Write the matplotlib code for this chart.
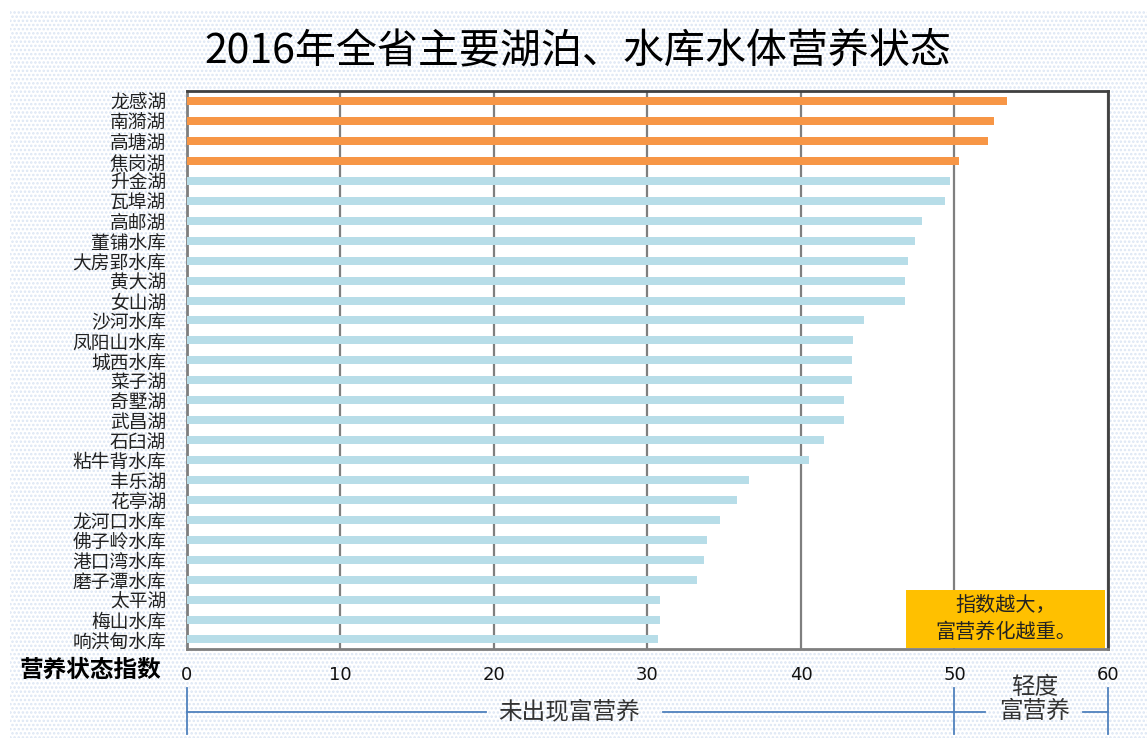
import matplotlib
matplotlib.use("Agg")
import matplotlib.pyplot as plt
from matplotlib.patches import Rectangle
from matplotlib.transforms import blended_transform_factory

plt.rcParams['font.family'] = ['Noto Sans CJK SC', 'DejaVu Sans']
plt.rcParams['hatch.linewidth'] = 1.2

# 数据
lakes = ['龙感湖', '南漪湖', '高塘湖', '焦岗湖', '升金湖', '瓦埠湖', '高邮湖',
         '董铺水库', '大房郢水库', '黄大湖', '女山湖', '沙河水库', '凤阳山水库',
         '城西水库', '菜子湖', '奇墅湖', '武昌湖', '石臼湖', '粘牛背水库',
         '丰乐湖', '花亭湖', '龙河口水库', '佛子岭水库', '港口湾水库',
         '磨子潭水库', '太平湖', '梅山水库', '响洪甸水库']
index_values = [53.4, 52.6, 52.2, 50.3, 49.7, 49.4, 47.9, 47.4, 47.0, 46.8,
                46.8, 44.1, 43.4, 43.3, 43.3, 42.8, 42.8, 41.5, 40.5, 36.6,
                35.8, 34.7, 33.9, 33.7, 33.2, 30.8, 30.8, 30.7]
x_ticks = [0, 10, 20, 30, 40, 50, 60]
level_edges = [0, 50, 60]          # 未出现富营养 / 轻度富营养 分界
level_names = ['未出现富营养', '轻度\n富营养']

orange = '#F79646'
light_blue = '#B7DDE8'
colors = [orange if v >= 50 else light_blue for v in index_values]

fig = plt.figure(figsize=(11.47, 7.38), dpi=100)
# 点状背景
bg = Rectangle((0.009, 0), 0.991, 0.986, transform=fig.transFigure, facecolor='white',
               edgecolor='#dce6f4', hatch='....', lw=0, zorder=-10)
fig.patches.append(bg)

ax = fig.add_axes([0.163, 0.120, 0.803, 0.757])
ax.set_facecolor('white')
ypos = list(range(len(lakes)))
ax.barh(ypos, index_values, height=0.4, color=colors, zorder=3)
ax.set_xlim(0, 60)
ax.set_ylim(len(lakes) - 0.5, -0.52)
ax.set_yticks(ypos)
ax.set_yticklabels(lakes, fontsize=13.5, color='#222222')
ax.set_xticks(x_ticks)
ax.set_xticklabels([str(t) for t in x_ticks], fontsize=13, family='DejaVu Sans', color='#111111')
ax.tick_params(axis='both', length=0)
ax.tick_params(axis='y', pad=15)
ax.tick_params(axis='x', pad=12)
ax.grid(axis='x', color='#7f7f7f', lw=1.6, zorder=1)
for side in ['left', 'bottom']:
    ax.spines[side].set_color('#7f7f7f')
    ax.spines[side].set_linewidth(2)
for side in ['top', 'right']:
    ax.spines[side].set_color('#404040')
    ax.spines[side].set_linewidth(2)

fig.text(0.504, 0.931, '2016年全省主要湖泊、水库水体营养状态', fontsize=29.5,
         ha='center', va='center', color='black')
fig.text(0.017, 0.092, '营养状态指数', fontsize=17, fontweight='bold',
         ha='left', va='center')

# 说明框
note_box = Rectangle((0.781, 0.003), 0.216, 0.104, transform=ax.transAxes,
                     facecolor='#FFC000', edgecolor='none', zorder=5)
ax.add_patch(note_box)
ax.text(0.889, 0.055, '指数越大，\n富营养化越重。', transform=ax.transAxes,
        fontsize=14.5, ha='center', va='center', color='#222222', linespacing=1.35,
        zorder=6)

# 底部等级标尺
tr = blended_transform_factory(ax.transData, fig.transFigure)
line_col = '#4f81bd'
for e in level_edges:
    ax.plot([e, e], [0.005, 0.068], color=line_col, lw=1.3, transform=tr, clip_on=False)
y_line = 0.035
ax.plot([0, 19.5], [y_line, y_line], color=line_col, lw=1.3, transform=tr, clip_on=False)
ax.plot([31.0, 50], [y_line, y_line], color=line_col, lw=1.3, transform=tr, clip_on=False)
ax.plot([50, 52.0], [y_line, y_line], color=line_col, lw=1.3, transform=tr, clip_on=False)
ax.plot([58.4, 60], [y_line, y_line], color=line_col, lw=1.3, transform=tr, clip_on=False)
ax.text((level_edges[0] + level_edges[1]) / 2 - 0.1, y_line, level_names[0], transform=tr,
        fontsize=17, ha='center', va='center', color='#333333')
ax.text((level_edges[1] + level_edges[2]) / 2 + 0.2, 0.052, level_names[1], transform=tr,
        fontsize=17, ha='center', va='center', color='#333333', linespacing=1.05)

fig.savefig('out.png', dpi=100)
